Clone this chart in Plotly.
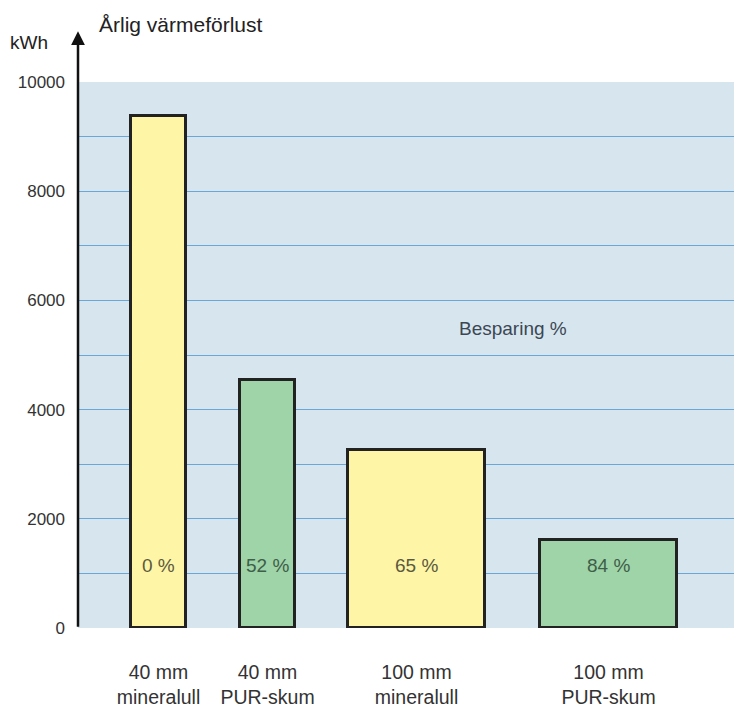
import plotly.graph_objects as go

# Data
categories = ["40 mm<br>mineralull", "40 mm<br>PUR-skum", "100 mm<br>mineralull", "100 mm<br>PUR-skum"]
values = [9380, 4540, 3260, 1610]
savings = ["0 %", "52 %", "65 %", "84 %"]
y_ticks = [0, 2000, 4000, 6000, 8000, 10000]

# Layout (positions / widths / styles)
x_pos = [80.5, 189.5, 338.5, 530.5]
widths = [55, 55, 137, 137]
colors = ["#fff5a6", "#9fd4a9", "#fff5a6", "#9fd4a9"]
text_colors = ["#5a5a40", "#3e5e48", "#5a5a40", "#3e5e48"]

FONT = "Liberation Sans, Arial, sans-serif"

fig = go.Figure()
fig.add_trace(go.Bar(
    x=x_pos, y=values, width=widths,
    marker=dict(color=colors, line=dict(color="#222222", width=3)),
    hoverinfo="skip",
))

for xp, s, tc in zip(x_pos, savings, text_colors):
    fig.add_annotation(x=xp, y=1150, text=s, showarrow=False,
                       font=dict(family=FONT, size=19, color=tc))

fig.add_annotation(x=435, y=5480, text="Besparing %", showarrow=False,
                   font=dict(family=FONT, size=19, color="#3c4654"))

# y axis arrow
fig.add_annotation(x=0, y=1.093, xref="paper", yref="paper", ax=0, ay=597,
                   axref="pixel", ayref="pixel", text="", showarrow=True,
                   arrowhead=2, arrowsize=1.1, arrowwidth=2.5, arrowcolor="#111111")
fig.add_annotation(x=-0.0747, y=1.073, xref="paper", yref="paper", text="kWh",
                   showarrow=False, xanchor="center", yanchor="middle",
                   font=dict(family=FONT, size=19, color="#222222"))
fig.add_annotation(x=0.029, y=1.106, xref="paper", yref="paper", text="Årlig värmeförlust",
                   showarrow=False, xanchor="left", yanchor="middle",
                   font=dict(family=FONT, size=21, color="#222222"))

fig.update_layout(
    width=734, height=707,
    margin=dict(l=78, r=0, t=82, b=79),
    paper_bgcolor="white",
    plot_bgcolor="#d7e6ee",
    showlegend=False,
    bargap=0,
    xaxis=dict(range=[0, 656], tickvals=x_pos, ticktext=categories,
               showgrid=False, zeroline=False, showline=False,
               ticks="", ticklabelstandoff=30,
               tickfont=dict(family=FONT, size=19.5, color="#333333")),
    yaxis=dict(range=[0, 10000], tickvals=list(range(0, 10001, 1000)),
               ticktext=[str(v) if v in y_ticks else "" for v in range(0, 10001, 1000)],
               showgrid=True, gridcolor="#6aa6d6", gridwidth=1.4,
               zeroline=False, showline=False, ticks="",
               ticklabelstandoff=12,
               tickfont=dict(family=FONT, size=17, color="#333333")),
)

fig.write_html("out.html")
